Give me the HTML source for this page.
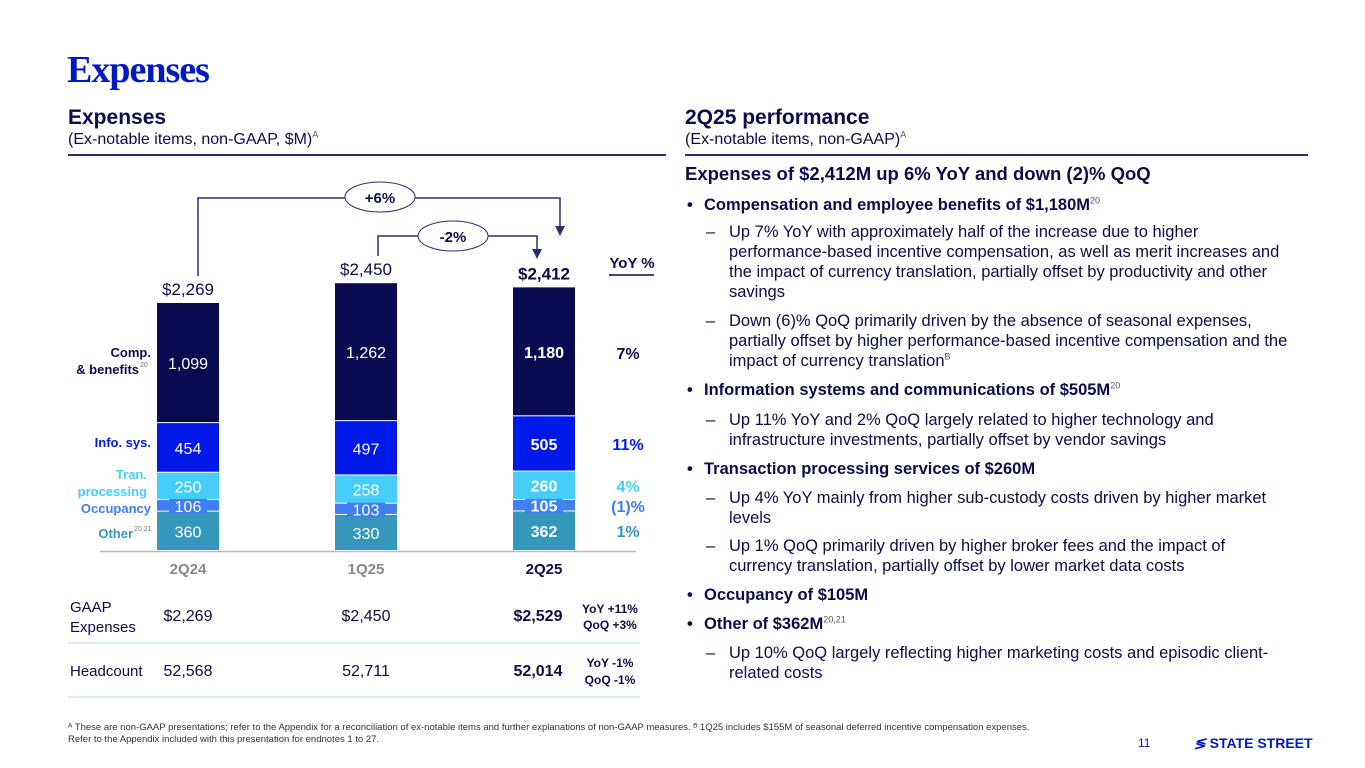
<!DOCTYPE html>
<html><head><meta charset="utf-8"><style>
body{margin:0;width:1365px;height:768px;position:relative;background:#fff;font-family:"Liberation Sans",sans-serif;color:#0c0c4a;overflow:hidden}
.a{position:absolute}
.h{font-weight:bold;font-size:21px;color:#0c0c4a}
.s{font-size:16px;color:#0c0c4a}
.rule{position:absolute;height:2px;background:#2b2f6b}
.b{font-weight:bold;font-size:16.5px;color:#0c0c4a;position:absolute;left:704px}
.b:before{content:"•";position:absolute;left:-17px;color:#0c0c4a}
.d{font-size:16.5px;color:#0c0c4a;position:absolute;left:729px;width:562px;line-height:20px}
.d:before{content:"–";position:absolute;left:-23px}
sup{font-size:9px;font-weight:normal;color:#555;line-height:0}
</style></head><body>
<div class="a" style="left:67px;top:48px;font-family:'Liberation Serif',serif;font-size:38px;font-weight:bold;color:#0018c8;letter-spacing:-1px">Expenses</div>
<div class="a h" style="left:68px;top:106px">Expenses</div>
<div class="a s" style="left:68px;top:131px">(Ex-notable items, non-GAAP, $M)<sup>A</sup></div>
<div class="rule" style="left:68px;top:154px;width:598px"></div>
<div class="a h" style="left:685px;top:106px">2Q25 performance</div>
<div class="a s" style="left:685px;top:131px">(Ex-notable items, non-GAAP)<sup>A</sup></div>
<div class="rule" style="left:685px;top:154px;width:623px"></div>

<div class="a" style="left:685px;top:163px;font-size:18.5px;font-weight:bold;color:#0c0c4a">Expenses of $2,412M up 6% YoY and down (2)% QoQ</div>
<div class="b" style="top:196px">Compensation and employee benefits of $1,180M<sup>20</sup></div>
<div class="d" style="top:222px">Up 7% YoY with approximately half of the increase due to higher performance-based incentive compensation, as well as merit increases and the impact of currency translation, partially offset by productivity and other savings</div>
<div class="d" style="top:311px">Down (6)% QoQ primarily driven by the absence of seasonal expenses, partially offset by higher performance-based incentive compensation and the impact of currency translation<sup>B</sup></div>
<div class="b" style="top:381px">Information systems and communications of $505M<sup>20</sup></div>
<div class="d" style="top:410px">Up 11% YoY and 2% QoQ largely related to higher technology and infrastructure investments, partially offset by vendor savings</div>
<div class="b" style="top:460px">Transaction processing services of $260M</div>
<div class="d" style="top:488px">Up 4% YoY mainly from higher sub-custody costs driven by higher market levels</div>
<div class="d" style="top:536px">Up 1% QoQ primarily driven by higher broker fees and the impact of currency translation, partially offset by lower market data costs</div>
<div class="b" style="top:586px">Occupancy of $105M</div>
<div class="b" style="top:615px">Other of $362M<sup>20,21</sup></div>
<div class="d" style="top:643px">Up 10% QoQ largely reflecting higher marketing costs and episodic client-related costs</div>

<div class="a" style="left:68px;top:722px;width:1060px;font-size:9.5px;line-height:12px;color:#333">ᴬ These are non-GAAP presentations; refer to the Appendix for a reconciliation of ex-notable items and further explanations of non-GAAP measures. ᴮ 1Q25 includes $155M of seasonal deferred incentive compensation expenses.<br>Refer to the Appendix included with this presentation for endnotes 1 to 27.</div>
<div class="a" style="left:1138px;top:736px;font-size:12px;color:#0018c8">11</div>
<div class="a" style="left:1194px;top:735px;font-size:14px;font-weight:bold;color:#0018c8"><span style="font-style:italic">≶</span> STATE STREET</div>

<svg id="chart" class="a" style="left:0;top:0" width="1365" height="768"></svg>
<script>
const categories=["2Q24","1Q25","2Q25"];
const other=[360,330,362];
const occupancy=[106,103,105];
const tran=[250,258,260];
const info=[454,497,505];
const comp=[1099,1262,1180];
const totals=["$2,269","$2,450","$2,412"];
const yoy=["7%","11%","4%","(1)%","1%"];
const gaap=["$2,269","$2,450","$2,529"];
const headcount=["52,568","52,711","52,014"];
const NS="http://www.w3.org/2000/svg";
const svg=document.getElementById('chart');
const base=551,k=0.1093,bw=62;
const cx=i=>188+i*178;
const y=v=>base-v*k;
function mk(t,a,txt){const e=document.createElementNS(NS,t);for(const n in a)e.setAttribute(n,a[n]);if(txt!==undefined)e.textContent=txt;svg.appendChild(e);return e;}
const series=[[other,"#3597b9","#fff","other"],[occupancy,"#3f7ff2","#fff","occupancy"],[tran,"#47cdf9","#fff","tran"],[info,"#0018e8","#fff","info"],[comp,"#0a0a50","#fff","comp"]];
categories.forEach((c,i)=>{
  let acc=0;const bold=i==2?"bold":"normal";
  series.forEach(([arr,col,tc,nm])=>{
    const y0=y(acc),y1=y(acc+arr[i]);
    const r=mk('rect',{x:cx(i)-bw/2,y:y1,width:bw,height:y0-y1-1,fill:col});
    
    
    if(nm=="occupancy")mk('rect',{x:cx(i)-19,y:(y0+y1)/2-9,width:38,height:17,fill:"#3f7ff2"});
    const t=mk('text',{x:cx(i),y:(y0+y1)/2+6,'text-anchor':'middle','font-size':16,fill:tc,'font-weight':bold},arr[i].toLocaleString('en-US'));
    
    
    acc+=arr[i];
  });
  const tt=mk('text',{x:cx(i),y:y(acc)-8,'text-anchor':'middle','font-size':17,fill:"#0c0c4a",'font-weight':bold},totals[i]);
  
  
  const ct=mk('text',{x:cx(i),y:574,'text-anchor':'middle','font-size':15,'font-weight':'bold',fill:i==2?"#0c0c4a":"#888"},c);
  
  
  const g=mk('text',{x:cx(i)+(i==2?-6:0),y:621,'text-anchor':'middle','font-size':16,fill:"#0c0c4a",'font-weight':bold},gaap[i]);
  
  
  const h=mk('text',{x:cx(i)+(i==2?-6:0),y:676,'text-anchor':'middle','font-size':16,fill:"#0c0c4a",'font-weight':bold},headcount[i]);
  
  
});
mk('line',{x1:100,x2:636,y1:551.5,y2:551.5,stroke:"#bbb","stroke-width":1.5});
mk('line',{x1:68,x2:640,y1:643,y2:643,stroke:"#d3e3f3","stroke-width":1.5});
mk('line',{x1:68,x2:640,y1:697,y2:697,stroke:"#d3e3f3","stroke-width":1.5});
const lab=[["Comp.",357,"#0c0c4a",151],["& benefits",374,"#0c0c4a",139],["Info. sys.",447,"#0018e8",151],["Tran.",479,"#47cdf9",147],["processing",496,"#47cdf9",147],["Occupancy",513,"#3f7ff2",151],["Other",538,"#3597b9",133]];
lab.forEach(([t,yy,col,xx])=>{const e=mk('text',{x:xx,y:yy,'text-anchor':'end','font-size':13,'font-weight':'bold',fill:col},t);});
mk('text',{x:140,y:367,'font-size':7,fill:"#777"},"20");
mk('text',{x:134,y:531,'font-size':7,fill:"#777"},"20,21");
mk('text',{x:632,y:268,'text-anchor':'middle','font-size':15,'font-weight':'bold',fill:"#0c0c4a"},"YoY %");
mk('line',{x1:609,x2:654,y1:275,y2:275,stroke:"#0c0c4a","stroke-width":1.5});
const ycol=["#0c0c4a","#0018e8","#47cdf9","#3f7ff2","#3597b9"],yy=[359,450,492,512,537];
yoy.forEach((t,i)=>{const e=mk('text',{x:628,y:yy[i],'text-anchor':'middle','font-size':16,'font-weight':'bold',fill:ycol[i]},t);});
const P="#2b2f6b";
mk('polyline',{points:"198,276 198,198 560,198 560,228",fill:"none",stroke:P,"stroke-width":1.5});
mk('polygon',{points:"555,226 565,226 560,236",fill:P});
mk('ellipse',{cx:380,cy:197,rx:35,ry:15,fill:"#fff",stroke:P,"stroke-width":1});
mk('text',{x:380,y:203,'text-anchor':'middle','font-size':15,'font-weight':'bold',fill:"#0c0c4a"},"+6%");
mk('polyline',{points:"378,256 378,236 537,236 537,251",fill:"none",stroke:P,"stroke-width":1.5});
mk('polygon',{points:"532,249 542,249 537,259",fill:P});
mk('ellipse',{cx:453,cy:236,rx:35,ry:15,fill:"#fff",stroke:P,"stroke-width":1});
mk('text',{x:453,y:242,'text-anchor':'middle','font-size':15,'font-weight':'bold',fill:"#0c0c4a"},"-2%");
mk('text',{x:70,y:612,'font-size':15,fill:"#0c0c4a"},"GAAP");
mk('text',{x:70,y:632,'font-size':15,fill:"#0c0c4a"},"Expenses");
mk('text',{x:70,y:676,'font-size':15,fill:"#0c0c4a"},"Headcount");
mk('text',{x:610,y:613,'text-anchor':'middle','font-size':12,'font-weight':'bold',fill:"#0c0c4a"},"YoY +11%");
mk('text',{x:610,y:629,'text-anchor':'middle','font-size':12,'font-weight':'bold',fill:"#0c0c4a"},"QoQ +3%");
mk('text',{x:610,y:667,'text-anchor':'middle','font-size':12,'font-weight':'bold',fill:"#0c0c4a"},"YoY -1%");
mk('text',{x:610,y:684,'text-anchor':'middle','font-size':12,'font-weight':'bold',fill:"#0c0c4a"},"QoQ -1%");
</script>
</body></html>
